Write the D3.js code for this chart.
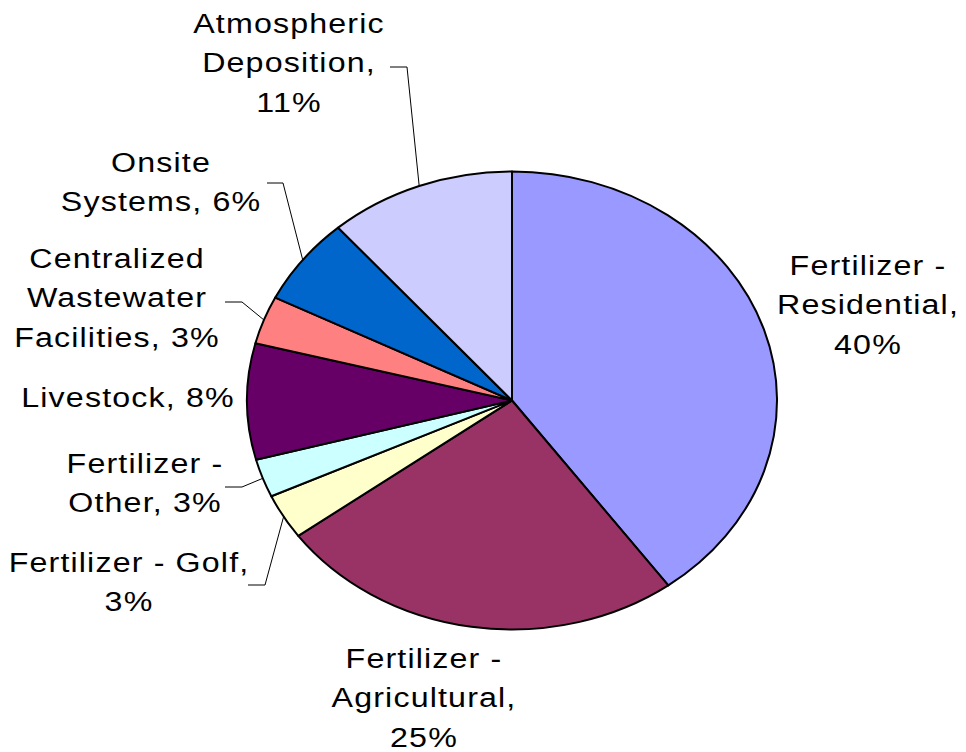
<!DOCTYPE html>
<html>
<head>
<meta charset="utf-8">
<script src="https://cdn.jsdelivr.net/npm/d3@7"></script>
<style>
  html, body { margin: 0; padding: 0; background: #ffffff; }
  svg { display: block; }
</style>
</head>
<body>
<svg id="chart" width="966" height="752"></svg>
<script>
// ---- Data ----
const categories = [
  "Fertilizer - Residential",
  "Fertilizer - Agricultural",
  "Fertilizer - Golf",
  "Fertilizer - Other",
  "Livestock",
  "Centralized Wastewater Facilities",
  "Onsite Systems",
  "Atmospheric Deposition"
];
const values = [40.0, 25.0, 3.2, 2.7, 8.2, 3.4, 6.2, 11.4];
const colors = ["#9999FF", "#993366", "#FFFFCC", "#CCFFFF", "#660066", "#FF8080", "#0066CC", "#CCCCFF"];

// ---- Layout (label wrapping & placement) ----
const labelLayout = {
  "Fertilizer - Residential": { lines: ["Fertilizer -", "Residential,", "{p}"], x: 868, y: 275 },
  "Fertilizer - Agricultural": { lines: ["Fertilizer -", "Agricultural,", "{p}"], x: 424, y: 668 },
  "Fertilizer - Golf": { lines: ["Fertilizer - Golf,", "{p}"], x: 129, y: 572, leader: [[248, 585], [265, 585]] },
  "Fertilizer - Other": { lines: ["Fertilizer -", "Other, {p}"], x: 145, y: 473, leader: [[225, 487], [242, 487]] },
  "Livestock": { lines: ["Livestock, {p}"], x: 128, y: 407 },
  "Centralized Wastewater Facilities": { lines: ["Centralized", "Wastewater", "Facilities, {p}"], x: 117, y: 268, leader: [[225, 302], [242, 302]] },
  "Onsite Systems": { lines: ["Onsite", "Systems, {p}"], x: 161, y: 172, leader: [[267, 183], [283, 183]] },
  "Atmospheric Deposition": { lines: ["Atmospheric", "Deposition,", "{p}"], x: 289, y: 33, leader: [[390, 67], [407, 67]] }
};

const W = 966, H = 752;
const cx = 512, cy = 400.5, rx = 265, ry = 229;
const sx = rx / ry;
const lineH = 39.3;
const fontSize = 28;
const textStretch = 1.15;

const svg = d3.select("#chart");
const total = d3.sum(values);
const rows = categories.map((c, i) => ({ name: c, value: values[i], color: colors[i] }));

const pie = d3.pie().sort(null).value(d => d.value).startAngle(0).endAngle(2 * Math.PI);
const arcs = pie(rows);
const arc = d3.arc().innerRadius(0).outerRadius(ry);
const edgeArc = d3.arc().innerRadius(ry).outerRadius(ry);

// Pie (elliptical: circle scaled horizontally)
const gPie = svg.append("g").attr("transform", `translate(${cx},${cy}) scale(${sx},1)`);
gPie.selectAll("path.slice")
  .data(arcs)
  .join("path")
  .attr("class", "slice")
  .attr("d", arc)
  .attr("fill", d => d.data.color)
  .attr("stroke", "#000")
  .attr("stroke-width", 2)
  .attr("stroke-linejoin", "round")
  .attr("vector-effect", "non-scaling-stroke");

// Leader lines
const gLead = svg.append("g");
arcs.forEach(a => {
  const lay = labelLayout[a.data.name];
  if (!lay.leader) return;
  const c = edgeArc.centroid(a);
  const edge = [cx + c[0] * sx, cy + c[1]];
  const pts = [lay.leader[0], lay.leader[1], edge];
  gLead.append("path")
    .attr("d", d3.line()(pts))
    .attr("fill", "none")
    .attr("stroke", "#000")
    .attr("stroke-width", 1);
});

// Labels
const gLab = svg.append("g")
  .attr("font-family", "'Liberation Sans', Arial, Helvetica, sans-serif")
  .attr("font-size", fontSize)
  .attr("fill", "#000");
arcs.forEach(a => {
  const lay = labelLayout[a.data.name];
  const pct = Math.round(a.data.value / total * 100) + "%";
  const g = gLab.append("g").attr("transform", `translate(${lay.x},0) scale(${textStretch},1)`);
  const t = g.append("text")
    .attr("text-anchor", "middle")
    .attr("letter-spacing", 1);
  lay.lines.forEach((ln, k) => {
    t.append("tspan")
      .attr("x", 0)
      .attr("y", lay.y + k * lineH)
      .text(ln.replace("{p}", pct));
  });
});
</script>
</body>
</html>
